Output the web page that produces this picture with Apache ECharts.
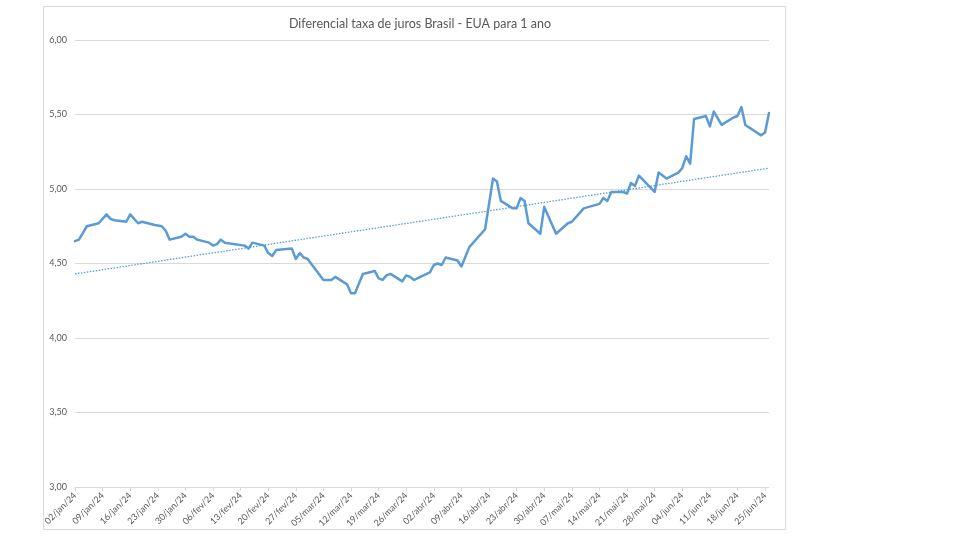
<!DOCTYPE html>
<html>
<head>
<meta charset="utf-8">
<script src="https://cdn.jsdelivr.net/npm/echarts@6/dist/echarts.min.js"></script>
<style>
  html, body { margin: 0; padding: 0; background: #fff; }
  #chart { width: 960px; height: 540px; }
</style>
</head>
<body>
<div id="chart"></div>
<script>
// datas (dias uteis com vertice visivel)
var dates = [
  '2024-01-02','2024-01-03','2024-01-05','2024-01-08','2024-01-10','2024-01-11','2024-01-12','2024-01-15','2024-01-16','2024-01-18',
  '2024-01-19','2024-01-22','2024-01-24','2024-01-25','2024-01-26','2024-01-29','2024-01-30','2024-01-31',
  '2024-02-01','2024-02-02','2024-02-05','2024-02-06','2024-02-07','2024-02-08','2024-02-09','2024-02-14','2024-02-15','2024-02-16',
  '2024-02-19','2024-02-20','2024-02-21','2024-02-22','2024-02-26','2024-02-27','2024-02-28','2024-02-29',
  '2024-03-01','2024-03-05','2024-03-07','2024-03-08','2024-03-11','2024-03-12','2024-03-13','2024-03-15','2024-03-18','2024-03-19',
  '2024-03-20','2024-03-21','2024-03-22','2024-03-25','2024-03-26','2024-03-27','2024-03-28',
  '2024-04-01','2024-04-02','2024-04-03','2024-04-04','2024-04-05','2024-04-08','2024-04-09','2024-04-11','2024-04-15','2024-04-17',
  '2024-04-18','2024-04-19','2024-04-22','2024-04-23','2024-04-24','2024-04-25','2024-04-26','2024-04-29','2024-04-30',
  '2024-05-03','2024-05-06','2024-05-07','2024-05-09','2024-05-10','2024-05-14','2024-05-15','2024-05-16','2024-05-17','2024-05-20',
  '2024-05-21','2024-05-22','2024-05-23','2024-05-24','2024-05-28','2024-05-29','2024-05-31',
  '2024-06-03','2024-06-04','2024-06-05','2024-06-06','2024-06-07','2024-06-10','2024-06-11','2024-06-12','2024-06-14','2024-06-17',
  '2024-06-18','2024-06-19','2024-06-20','2024-06-24','2024-06-25','2024-06-26'
];
var values = [
  4.65,4.66,4.75,4.77,4.83,4.80,4.79,4.78,4.83,4.77,
  4.78,4.76,4.75,4.72,4.66,4.68,4.70,4.68,
  4.68,4.66,4.64,4.62,4.63,4.66,4.64,4.62,4.60,4.64,
  4.62,4.57,4.55,4.59,4.60,4.53,4.57,4.54,
  4.53,4.39,4.39,4.41,4.36,4.30,4.30,4.43,4.45,4.40,
  4.39,4.42,4.43,4.38,4.42,4.41,4.39,
  4.44,4.49,4.50,4.49,4.54,4.52,4.48,4.61,4.73,5.07,
  5.05,4.92,4.87,4.87,4.94,4.92,4.77,4.70,4.88,
  4.70,4.77,4.78,4.84,4.87,4.90,4.94,4.92,4.98,4.98,
  4.97,5.04,5.02,5.09,4.98,5.11,5.07,
  5.11,5.14,5.22,5.17,5.47,5.49,5.42,5.52,5.43,5.48,
  5.49,5.55,5.43,5.36,5.38,5.51
];
// linha de tendencia (linear) - valores nas pontas
var trendDates = ['2024-01-02', '2024-06-26'];
var trendValues = [4.43, 5.14];
var yTicks = [3.0, 3.5, 4.0, 4.5, 5.0, 5.5, 6.0];

var meses = ['jan','fev','mar','abr','mai','jun','jul','ago','set','out','nov','dez'];
var startDay = Date.UTC(2024, 0, 2);
var DAY = 86400000;

function dayIndex(s) {
  var p = s.split('-');
  return Math.round((Date.UTC(+p[0], +p[1] - 1, +p[2]) - startDay) / DAY);
}
function dayLabel(i) {
  var d = new Date(startDay + i * DAY);
  var dd = d.getUTCDate();
  return (dd < 10 ? '0' : '') + dd + '/' + meses[d.getUTCMonth()] + '/' + String(d.getUTCFullYear()).slice(2);
}

var lineData = dates.map(function(d, i) { return [dayIndex(d), values[i]]; });
var trendData = trendDates.map(function(d, i) { return [dayIndex(d), trendValues[i]]; });
var lastDay = dayIndex(dates[dates.length - 1]);
var weekTicks = [];
for (var k = 0; k <= lastDay; k += 7) weekTicks.push(k);

var myChart = echarts.init(document.getElementById('chart'));
var option = {
  backgroundColor: '#fff',
  animation: false,
  title: {
    text: 'Diferencial taxa de juros Brasil - EUA para 1 ano',
    left: 415,
    top: 12,
    textAlign: 'center',
    textStyle: { fontFamily: 'Lato', fontSize: 12.5, fontWeight: 'normal', color: '#595959' }
  },
  graphic: [{
    type: 'rect',
    shape: { x: 43.5, y: 6.5, width: 742, height: 523 },
    style: { fill: 'none', stroke: '#d9d9d9', lineWidth: 1 },
    silent: true
  }],
  grid: { left: 75, right: 191, top: 40, bottom: 53, containLabel: false, outerBoundsMode: 'none' },
  xAxis: {
    type: 'value',
    min: 0,
    max: lastDay,
    interval: 7,
    splitLine: { show: false },
    axisLine: { show: true, lineStyle: { color: '#d9d9d9', width: 1 } },
    axisTick: { show: true, length: 4, customValues: weekTicks, lineStyle: { color: '#d9d9d9' } },
    axisLabel: {
      customValues: weekTicks,
      rotate: 45,
      margin: 7,
      fontFamily: 'Lato',
      fontSize: 9,
      color: '#595959',
      formatter: function(v) { return dayLabel(v); }
    }
  },
  yAxis: {
    type: 'value',
    min: yTicks[0],
    max: yTicks[yTicks.length - 1],
    interval: 0.5,
    axisLine: { show: false },
    axisTick: { show: false },
    splitLine: { lineStyle: { color: '#d9d9d9', width: 1 } },
    axisLabel: {
      margin: 8,
      fontFamily: 'Lato',
      fontSize: 9,
      color: '#595959',
      formatter: function(v) { return v.toFixed(2).replace('.', ','); }
    }
  },
  series: [
    {
      name: 'Diferencial',
      type: 'line',
      data: lineData,
      symbol: 'none',
      lineStyle: { color: '#5b9bd5', width: 2.5, join: 'round', cap: 'round' },
      z: 3
    },
    {
      name: 'Tendência',
      type: 'line',
      data: trendData,
      symbol: 'none',
      lineStyle: { color: '#5b9bd5', width: 1.3, type: [1.5, 1.5] },
      z: 2
    }
  ]
};
myChart.setOption(option);
</script>
</body>
</html>
